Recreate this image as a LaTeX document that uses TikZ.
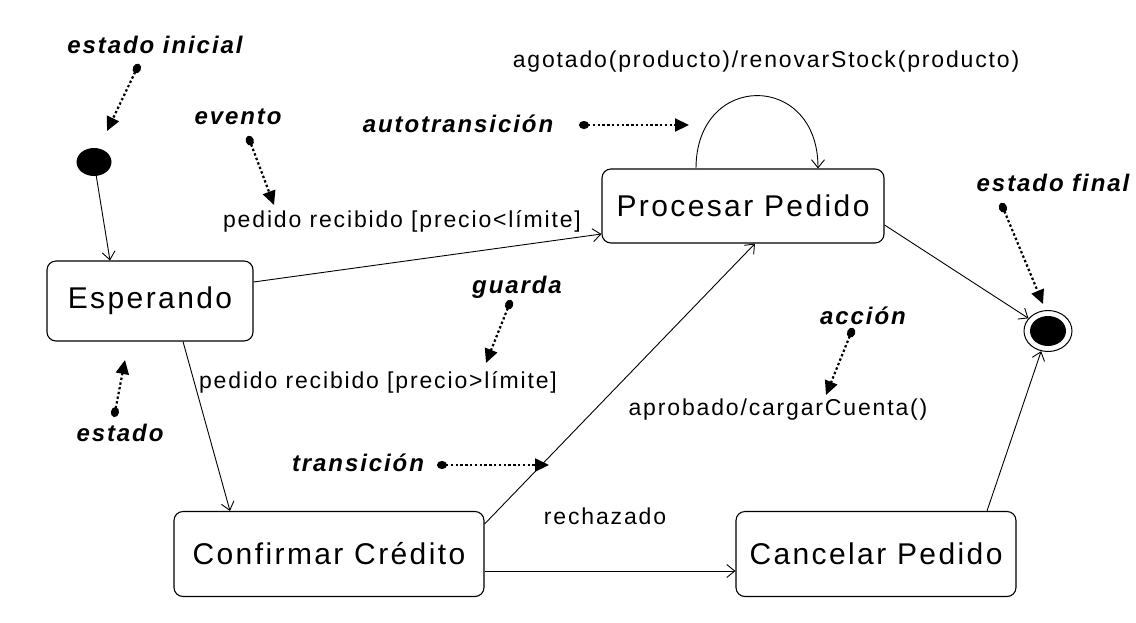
\documentclass[tikz,border=0pt]{standalone}
\usepackage{fontspec}
\setmainfont{Liberation Sans}[LetterSpace=8]
\usetikzlibrary{arrows.meta, positioning, shapes}

\tikzset{
  estado/.style={draw, rounded corners=9pt, line width=1.1pt, minimum height=80pt, font=\fontsize{30}{34}\selectfont},
  trans/.style={line width=0.9pt, ->},
  etiq/.style={font=\fontsize{23}{26}\selectfont, inner sep=0pt},
  nota/.style={font=\fontsize{24}{28}\selectfont\bfseries\itshape, inner sep=0pt},
  flecha nota/.style={line width=2.2pt, dash pattern=on 2.4pt off 2.4pt, {Circle[length=10pt,width=8pt]}-{Triangle[length=14pt,width=13pt]}}
}

\begin{document}
\begin{tikzpicture}[x=1pt, y=-1pt, >={Straight Barb[length=8pt,width=13pt]}]
    \fill[white] (0,0) rectangle (1136,622);

    \node[ellipse, fill=black, minimum width=35pt, minimum height=28pt, inner sep=0pt] (inicial) at (94,162) {};
    \node[estado, minimum width=206pt] (esperando) at (150,301) {Esperando};
    \node[estado, minimum width=282pt, minimum height=74pt] (procesar) at (743,206) {Procesar Pedido};
    \node[estado, minimum width=310pt, minimum height=85pt] (confirmar) at (329,554) {Confirmar Crédito};
    \node[estado, minimum width=280pt, minimum height=85pt] (cancelar) at (876,554) {Cancelar Pedido};
    \node[ellipse, draw, line width=1pt, minimum width=48pt, minimum height=41pt, inner sep=0pt] (final) at (1048,331) {};
    \node[ellipse, fill=black, minimum width=36pt, minimum height=30pt, inner sep=0pt] (final-centro) at (final) {};

    \draw[trans] (inicial) -- ([xshift=-40pt]esperando.north);
    \draw[trans] ([yshift=19pt]esperando.east) -- ([yshift=-28pt]procesar.west);
    \draw[trans] ([xshift=33pt]esperando.south) -- ([xshift=-99pt]confirmar.north);
    \draw[trans] ([yshift=30pt]confirmar.east) -- ([xshift=12pt]procesar.south);
    \draw[trans] ([yshift=-17pt]confirmar.east) -- ([yshift=-17pt]cancelar.west);
    \draw[trans] ([xshift=111pt]cancelar.north) -- (final);
    \draw[trans] ([yshift=-19pt]procesar.east) -- (final);
    \draw[trans] ([xshift=-47pt]procesar.north) .. controls +(0,-97) and +(0,-97) .. ([xshift=75pt]procesar.north);

    \node[etiq] (e-limite-menor) at (402,221) {pedido recibido [precio<límite]};
    \node[etiq] (e-limite-mayor) at (378,382) {pedido recibido [precio>límite]};
    \node[etiq] (e-agotado) at (766,62) {agotado(producto)/renovarStock(producto)};
    \node[etiq] (e-aprobado) at (778,410) {aprobado/cargarCuenta()};
    \node[etiq] (e-rechazado) at (605,516) {rechazado};

    \node[nota] (n-inicial) at (155,45) {estado inicial};
    \coordinate (d-inicial) at (139,64);
    \coordinate (t-inicial) at (107,131);
    \draw[flecha nota] (d-inicial) -- (t-inicial);

    \node[nota] (n-evento) at (238,117) {evento};
    \coordinate (d-evento) at (248,136);
    \coordinate (t-evento) at (274,205);
    \draw[flecha nota] (d-evento) -- (t-evento);

    \node[nota] (n-auto) at (458,124) {autotransición};
    \coordinate (d-auto) at (579,125);
    \coordinate (t-auto) at (689,125);
    \draw[flecha nota] (d-auto) -- (t-auto);

    \node[nota] (n-final) at (1053,183) {estado final};
    \coordinate (d-final) at (1001,203);
    \coordinate (t-final) at (1043,304);
    \draw[flecha nota] (d-final) -- (t-final);

    \node[nota] (n-guarda) at (517,287) {guarda};
    \coordinate (d-guarda) at (511,300);
    \coordinate (t-guarda) at (486,363);
    \draw[flecha nota] (d-guarda) -- (t-guarda);

    \node[nota] (n-accion) at (863,316) {acción};
    \coordinate (d-accion) at (853,328);
    \coordinate (t-accion) at (826,395);
    \draw[flecha nota] (d-accion) -- (t-accion);

    \node[nota] (n-estado) at (120,433) {estado};
    \coordinate (d-estado) at (114,417);
    \coordinate (t-estado) at (125,360);
    \draw[flecha nota] (d-estado) -- (t-estado);

    \node[nota] (n-transicion) at (358,463) {transición};
    \coordinate (d-transicion) at (437,465);
    \coordinate (t-transicion) at (549,465);
    \draw[flecha nota] (d-transicion) -- (t-transicion);
\end{tikzpicture}
\end{document}
